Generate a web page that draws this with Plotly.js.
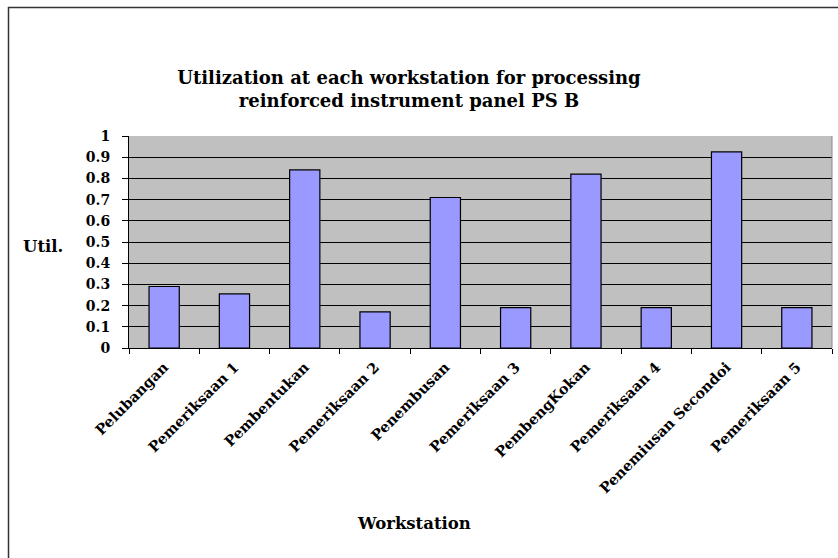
<!DOCTYPE html>
<html>
<head>
<meta charset="utf-8">
<script src="https://cdn.plot.ly/plotly-3.0.1.min.js"></script>
<style>html,body{margin:0;padding:0;background:#fff;}#chart{width:838px;height:558px;}</style>
</head>
<body>
<div id="chart"></div>
<script>
const workstations = ["Pelubangan", "Pemeriksaan 1", "Pembentukan", "Pemeriksaan 2", "Penembusan",
  "Pemeriksaan 3", "PembengKokan", "Pemeriksaan 4", "Penemiusan Secondoi", "Pemeriksaan 5"];
const utilization = [0.29, 0.255, 0.84, 0.17, 0.71, 0.19, 0.82, 0.19, 0.925, 0.19];
const yTickVals = [0, 0.1, 0.2, 0.3, 0.4, 0.5, 0.6, 0.7, 0.8, 0.9, 1];
const yTickText = ["0", "0.1", "0.2", "0.3", "0.4", "0.5", "0.6", "0.7", "0.8", "0.9", "1"];

const F = "DejaVu Serif, serif";
const trace = {
  type: "bar", x: workstations, y: utilization,
  marker: {color: "#9999FF", line: {color: "#000", width: 1.2}},
  width: 0.43, hoverinfo: "skip"
};
const layout = {
  width: 838, height: 558,
  margin: {l: 129, r: 6, t: 136, b: 210},
  paper_bgcolor: "#fff", plot_bgcolor: "#C0C0C0",
  showlegend: false,
  font: {family: F, color: "#000"},
  title: {
    text: "<b>Utilization at each workstation for processing<br>reinforced instrument panel PS B</b>",
    font: {family: F, size: 18, color: "#000"},
    xref: "container", yref: "container", x: 409/838, xanchor: "center",
    y: 1 - 84/558, yanchor: "middle"
  },
  xaxis: {
    type: "category", tickson: "boundaries", ticks: "outside", ticklen: 5, tickcolor: "#000",
    showline: true, linecolor: "#000", linewidth: 1, showgrid: false,
    tickangle: -45, ticklabelstandoff: 4,
    tickfont: {family: F, size: 14.5, color: "#000", weight: "bold"},
    range: [-0.5, 9.5], fixedrange: true
  },
  yaxis: {
    range: [0, 1], tickvals: yTickVals, ticktext: yTickText,
    ticks: "outside", ticklen: 6, tickcolor: "#000", ticklabelstandoff: 9,
    showline: true, linecolor: "#000", linewidth: 1,
    showgrid: true, gridcolor: "#000", gridwidth: 1, zeroline: false,
    tickfont: {family: F, size: 14, color: "#000", weight: "bold"}
  },
  annotations: [
    {text: "<b>Util.</b>", xref: "paper", yref: "paper", x: (43-129)/703, y: (348-246)/212,
     xanchor: "center", yanchor: "middle", showarrow: false, font: {family: F, size: 16.5, color: "#000"}},
    {text: "<b>Workstation</b>", xref: "paper", yref: "paper", x: (414-129)/703, y: (348-523)/212,
     xanchor: "center", yanchor: "middle", showarrow: false, font: {family: F, size: 16.5, color: "#000"}}
  ],
  shapes: [
    {type: "rect", xref: "paper", yref: "paper", x0: (8.5-129)/703, x1: 1.2, y0: -1.2, y1: (348-7.5)/212,
     line: {color: "#333", width: 1.5}, fillcolor: "rgba(0,0,0,0)", layer: "below"},
    {type: "line", xref: "paper", yref: "paper", x0: 1, x1: 1, y0: 0, y1: 1,
     line: {color: "#888", width: 1}}
  ]
};
Plotly.newPlot("chart", [trace], layout, {displayModeBar: false, staticPlot: true});
</script>
</body>
</html>
